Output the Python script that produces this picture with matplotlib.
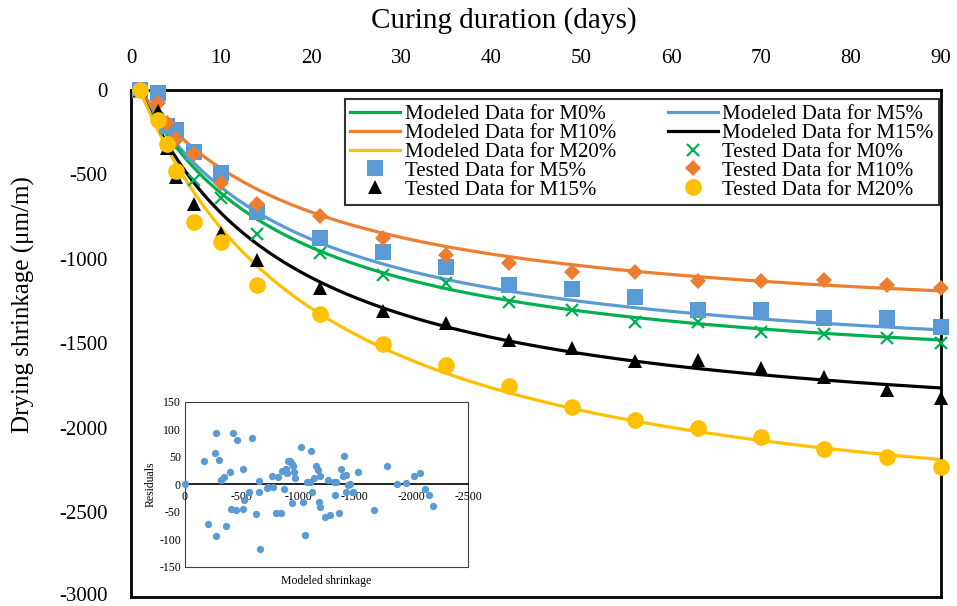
import numpy as np
import matplotlib
matplotlib.use("Agg")
import matplotlib.pyplot as plt
from matplotlib.patches import Rectangle
from matplotlib.transforms import ScaledTranslation

plt.rcParams['font.family'] = ['Liberation Serif', 'DejaVu Serif']
plt.rcParams['axes.unicode_minus'] = False

# curing days of the shrinkage readings
days = [1, 3, 4, 5, 7, 10, 14, 21, 28, 35, 42, 49, 56, 63, 70, 77, 84, 90]

# tested drying shrinkage (um/m)
m0_test = [0, -110, -230, -330, -530, -640, -850, -964, -1095, -1142, -1254,
           -1302, -1373, -1373, -1432, -1444, -1467, -1497]
m5_test = [0, -18, -215, -235, -367, -491, -722, -876, -959, -1047, -1154,
           -1178, -1225, -1302, -1302, -1349, -1349, -1402]
m10_test = [0, -77, -195, -290, -379, -550, -675, -746, -876, -976, -1024,
            -1077, -1077, -1130, -1130, -1124, -1154, -1172]
m15_test = [0, -124, -343, -515, -675, -846, -1006, -1172, -1308, -1379, -1479,
            -1527, -1604, -1598, -1645, -1698, -1775, -1822]
m20_test = [0, -178, -320, -479, -781, -899, -1154, -1325, -1503, -1627, -1751,
            -1876, -1953, -2000, -2053, -2124, -2172, -2231]

# hyperbolic model  eps(t) = -eps_u * (t - 1) / (f + t - 1)
eps_u = [1761, 1700, 1442, 2099, 2695]
f_days = [16.95, 17.58, 18.94, 16.95, 20.66]

mixes = ["M0%", "M5%", "M10%", "M15%", "M20%"]
colors = ["#00B050", "#5B9BD5", "#ED7D31", "#000000", "#FFC000"]
markers = ["x", "s", "D", "^", "o"]
msizes = [9, 11, 8, 10, 12]

# residuals of the fit: modeled shrinkage vs residual
res_x = [0, -171, -200, -265, -274, -274, -300, -315, -344, -359, -397, -403,
         -426, -447, -462, -509, -515, -524, -565, -591, -624, -656, -656,
         -662, -721, -729, -771, -779, -800, -818, -850, -856, -871, -888,
         -897, -912, -926, -941, -950, -941, -965, -976, -1021, -1044, -1059,
         -1082, -1103, -1112, -1118, -1138, -1159, -1176, -1185, -1191, -1191,
         -1238, -1262, -1285, -1315, -1324, -1338, -1359, -1379, -1397, -1406,
         -1421, -1426, -1441, -1462, -1485, -1526, -1674, -1785, -1876, -1953,
         -2021, -2074, -2118, -2156, -2191]
res_y = [0, 43, -71, 57, 93, -94, 45, 8, 14, -75, 22, -45,
         93, -47, 81, 28, -44, -29, -14, 85, -54, 7, -14,
         -118, -7, -4, 16, -5, -52, 13, -51, 24, -8, 29,
         20, 43, 42, 37, 33, -34, 23, 11, 69, -31, -92,
         5, 4, 60, -14, 11, 33, 27, -31, 16, -41,
         -60, 8, -56, 4, -19, 4, -51, 28, 16, 51,
         17, -14, -1, 0, -14, 23, -46, 34, 1, 2,
         16, 20, -9, -19, -39]

fig = plt.figure(figsize=(9.57, 6.06), dpi=100)
ax = fig.add_axes([0.1369, 0.0149, 0.8464, 0.8366])

tt = np.linspace(1, 90, 300)
line_handles = []
for i in range(5):
    model = -eps_u[i] * (tt - 1) / (f_days[i] + tt - 1)
    h, = ax.plot(tt, model, color=colors[i], lw=2.3, zorder=2,
                 label="Modeled Data for " + mixes[i])
    line_handles.append(h)

tests = [m0_test, m5_test, m10_test, m15_test, m20_test]
pt_handles = []
for i in range(5):
    if markers[i] == "x":
        h, = ax.plot(days, tests[i], ls="none", marker="x", ms=msizes[i],
                     mew=1.6, color=colors[i], zorder=3, clip_on=False,
                     label="Tested Data for " + mixes[i])
    else:
        h, = ax.plot(days, tests[i], ls="none", marker=markers[i],
                     ms=msizes[i], mew=0, color=colors[i], zorder=3,
                     clip_on=False, label="Tested Data for " + mixes[i])
    pt_handles.append(h)

ax.set_xlim(0, 90)
ax.set_ylim(-3000, 0)
ax.set_xticks(range(0, 91, 10))
ax.set_yticks(range(-3000, 1, 500))
ax.xaxis.tick_top()
ax.tick_params(length=0, labelsize=15)
ax.xaxis.set_tick_params(pad=16)
ax.yaxis.set_tick_params(pad=17)
# lift the lowest y label a little so it stays inside the figure
low = ax.yaxis.get_major_ticks()[0].label1
low.set_transform(low.get_transform() + ScaledTranslation(0, 3 / 100, fig.dpi_scale_trans))

fig.text(504 / 957, 1 - 21 / 606, "Curing duration (days)", fontsize=21,
         ha="center", va="center")
ax.set_ylabel("Drying shrinkage (\u03bcm/m)", fontsize=18)
ax.yaxis.set_label_coords(-0.1185, 0.576)
for s in ax.spines.values():
    s.set_linewidth(2)
    s.set_color("black")

# Excel-style row order in a two-column legend
col1 = [line_handles[0], line_handles[2], line_handles[4], pt_handles[1], pt_handles[3]]
col2 = [line_handles[1], line_handles[3], pt_handles[0], pt_handles[2], pt_handles[4]]
handles = col1 + col2
leg = ax.legend(handles=handles, labels=[h.get_label() for h in handles],
                ncol=2, loc="upper right", bbox_to_anchor=(0.997, 0.982),
                borderaxespad=0, fontsize=15, frameon=True, fancybox=False,
                edgecolor="black", handlelength=2.4, handletextpad=0.2,
                columnspacing=2.5, labelspacing=-0.03, borderpad=0.25)
leg.get_frame().set_linewidth(1.5)

# inset: residual plot
ax_in = fig.add_axes([0.1933, 0.0644, 0.2957, 0.2723])
ax_in.set_facecolor("white")
ax_in.scatter(res_x, res_y, s=18, color="#5B9BD5", zorder=3, clip_on=False)
ax_in.set_xlim(0, -2500)
ax_in.set_ylim(-150, 150)
ax_in.set_xticks(range(0, -2501, -500))
ax_in.set_yticks(range(-150, 151, 50))
ax_in.tick_params(length=0, labelsize=8.5, pad=3)
ax_in.xaxis.set_tick_params(pad=5)
ax_in.spines["bottom"].set_position(("data", 0))
ax_in.spines["bottom"].set_linewidth(1.2)
for k in ["top", "left", "right"]:
    ax_in.spines[k].set_visible(False)
ax_in.add_patch(Rectangle((0, 0), 1, 1, transform=ax_in.transAxes, fill=False,
                          lw=0.8, edgecolor="#404040", clip_on=False, zorder=1))
ax_in.set_xlabel("Modeled shrinkage", fontsize=8.5)
ax_in.xaxis.set_label_coords(0.5, -0.05)
ax_in.set_ylabel("Residuals", fontsize=8.5, labelpad=2)

fig.savefig("out.png", dpi=100)
